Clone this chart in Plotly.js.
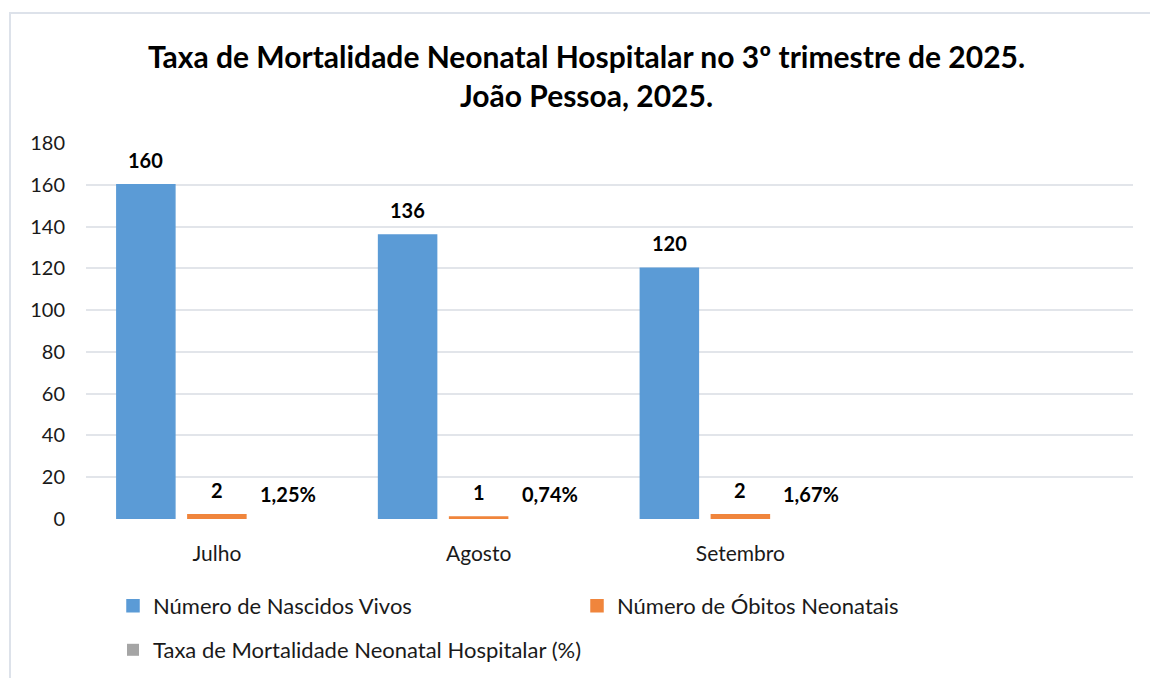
<!DOCTYPE html>
<html>
<head>
<meta charset="utf-8">
<script src="https://cdn.plot.ly/plotly-3.0.1.min.js"></script>
<style>
  html, body { margin: 0; padding: 0; background: #ffffff; }
  #chart { width: 1150px; height: 678px; }
  #frame { position: absolute; left: 9px; top: 12px; width: 1150px; height: 680px;
           border-left: 2px solid #dde2ea; border-top: 2px solid #dde2ea; pointer-events: none; }
</style>
</head>
<body>
<div id="chart"></div>
<div id="frame"></div>
<script>
// ---- data ----
const months = ['Julho', 'Agosto', 'Setembro'];
const nascidosVivos = [160, 136, 120];
const obitosNeonatais = [2, 1, 2];
const taxaMortalidade = [1.25, 0.74, 1.67]; // percent
const seriesNames = ['Número de Nascidos Vivos', 'Número de Óbitos Neonatais', 'Taxa de Mortalidade Neonatal Hospitalar (%)'];
const yTicks = [0, 20, 40, 60, 80, 100, 120, 140, 160, 180];

const FONT = 'Lato, "Open Sans", sans-serif';
const BARGAP = 0.186;
const GROUPGAP = 0.183;
const colors = ['#5b9bd6', '#f0853c', '#a5a5a5'];

const taxaFrac = taxaMortalidade.map(v => v / 100);

const traces = [
  { type: 'bar', name: seriesNames[0], x: months, y: nascidosVivos,
    marker: { color: colors[0], line: { color: colors[0], width: 1.5 } }, legend: 'legend', hoverinfo: 'skip' },
  { type: 'bar', name: seriesNames[1], x: months, y: obitosNeonatais,
    marker: { color: colors[1], line: { color: colors[1], width: 1.5 } }, legend: 'legend', hoverinfo: 'skip' },
  { type: 'bar', name: seriesNames[2], x: months, y: taxaFrac,
    marker: { color: colors[2], line: { color: colors[2], width: 0 } }, legend: 'legend2', hoverinfo: 'skip' }
];

// data labels as annotations positioned at each bar's centre
const slot = (1 - BARGAP) / 3;
const annotations = [];
const labelSets = [
  nascidosVivos.map(v => String(v)),
  obitosNeonatais.map(v => String(v)),
  taxaMortalidade.map(v => v.toFixed(2).replace('.', ',') + '%')
];
const valueSets = [nascidosVivos, obitosNeonatais, taxaFrac];
for (let s = 0; s < 3; s++) {
  for (let i = 0; i < months.length; i++) {
    annotations.push({
      x: i + (s - 1) * slot, y: valueSets[s][i], xref: 'x', yref: 'y',
      text: '<b>' + labelSets[s][i] + '</b>', showarrow: false,
      yanchor: 'bottom', xanchor: 'center', yshift: 11,
      font: { family: FONT, size: 20, color: '#000000' }
    });
  }
}

const layout = {
  width: 1150, height: 678,
  paper_bgcolor: '#ffffff', plot_bgcolor: '#ffffff',
  margin: { l: 86, r: 17, t: 143, b: 159 },
  barmode: 'group', bargap: BARGAP, bargroupgap: GROUPGAP,
  title: {
    text: '<b>Taxa de Mortalidade Neonatal Hospitalar no 3º trimestre de 2025.<br>João Pessoa, 2025.</b>',
    font: { family: FONT, size: 30, color: '#000000' },
    x: 0.51, xref: 'container', xanchor: 'center',
    y: 0.90, yref: 'container', yanchor: 'top'
  },
  xaxis: {
    type: 'category', range: [-0.5, 3.5], showgrid: false, zeroline: false,
    showline: false, ticks: '', ticklabelstandoff: 20,
    tickfont: { family: FONT, size: 21, color: '#1a1a1a' }, fixedrange: true
  },
  yaxis: {
    range: [0, 180], tickvals: yTicks, ticktext: yTicks.map(String),
    showgrid: true, gridcolor: '#e2e5ea', gridwidth: 2, zeroline: false,
    showline: false, ticks: '', ticklabelstandoff: 20,
    tickfont: { family: FONT, size: 20, color: '#1a1a1a' }, fixedrange: true
  },
  showlegend: true,
  legend: {
    orientation: 'h', xref: 'container', yref: 'container',
    x: 113 / 1150, xanchor: 'left', y: 1 - 585 / 678, yanchor: 'top',
    entrywidth: 419, entrywidthmode: 'pixels',
    font: { family: FONT, size: 22, color: '#1a1a1a' },
    bgcolor: 'rgba(0,0,0,0)', traceorder: 'normal'
  },
  legend2: {
    orientation: 'h', xref: 'container', yref: 'container',
    x: 113 / 1150, xanchor: 'left', y: 1 - 629 / 678, yanchor: 'top',
    font: { family: FONT, size: 22, color: '#1a1a1a' },
    bgcolor: 'rgba(0,0,0,0)'
  },
  annotations: annotations
};

Plotly.newPlot('chart', traces, layout, { displayModeBar: false, staticPlot: true });
</script>
</body>
</html>
